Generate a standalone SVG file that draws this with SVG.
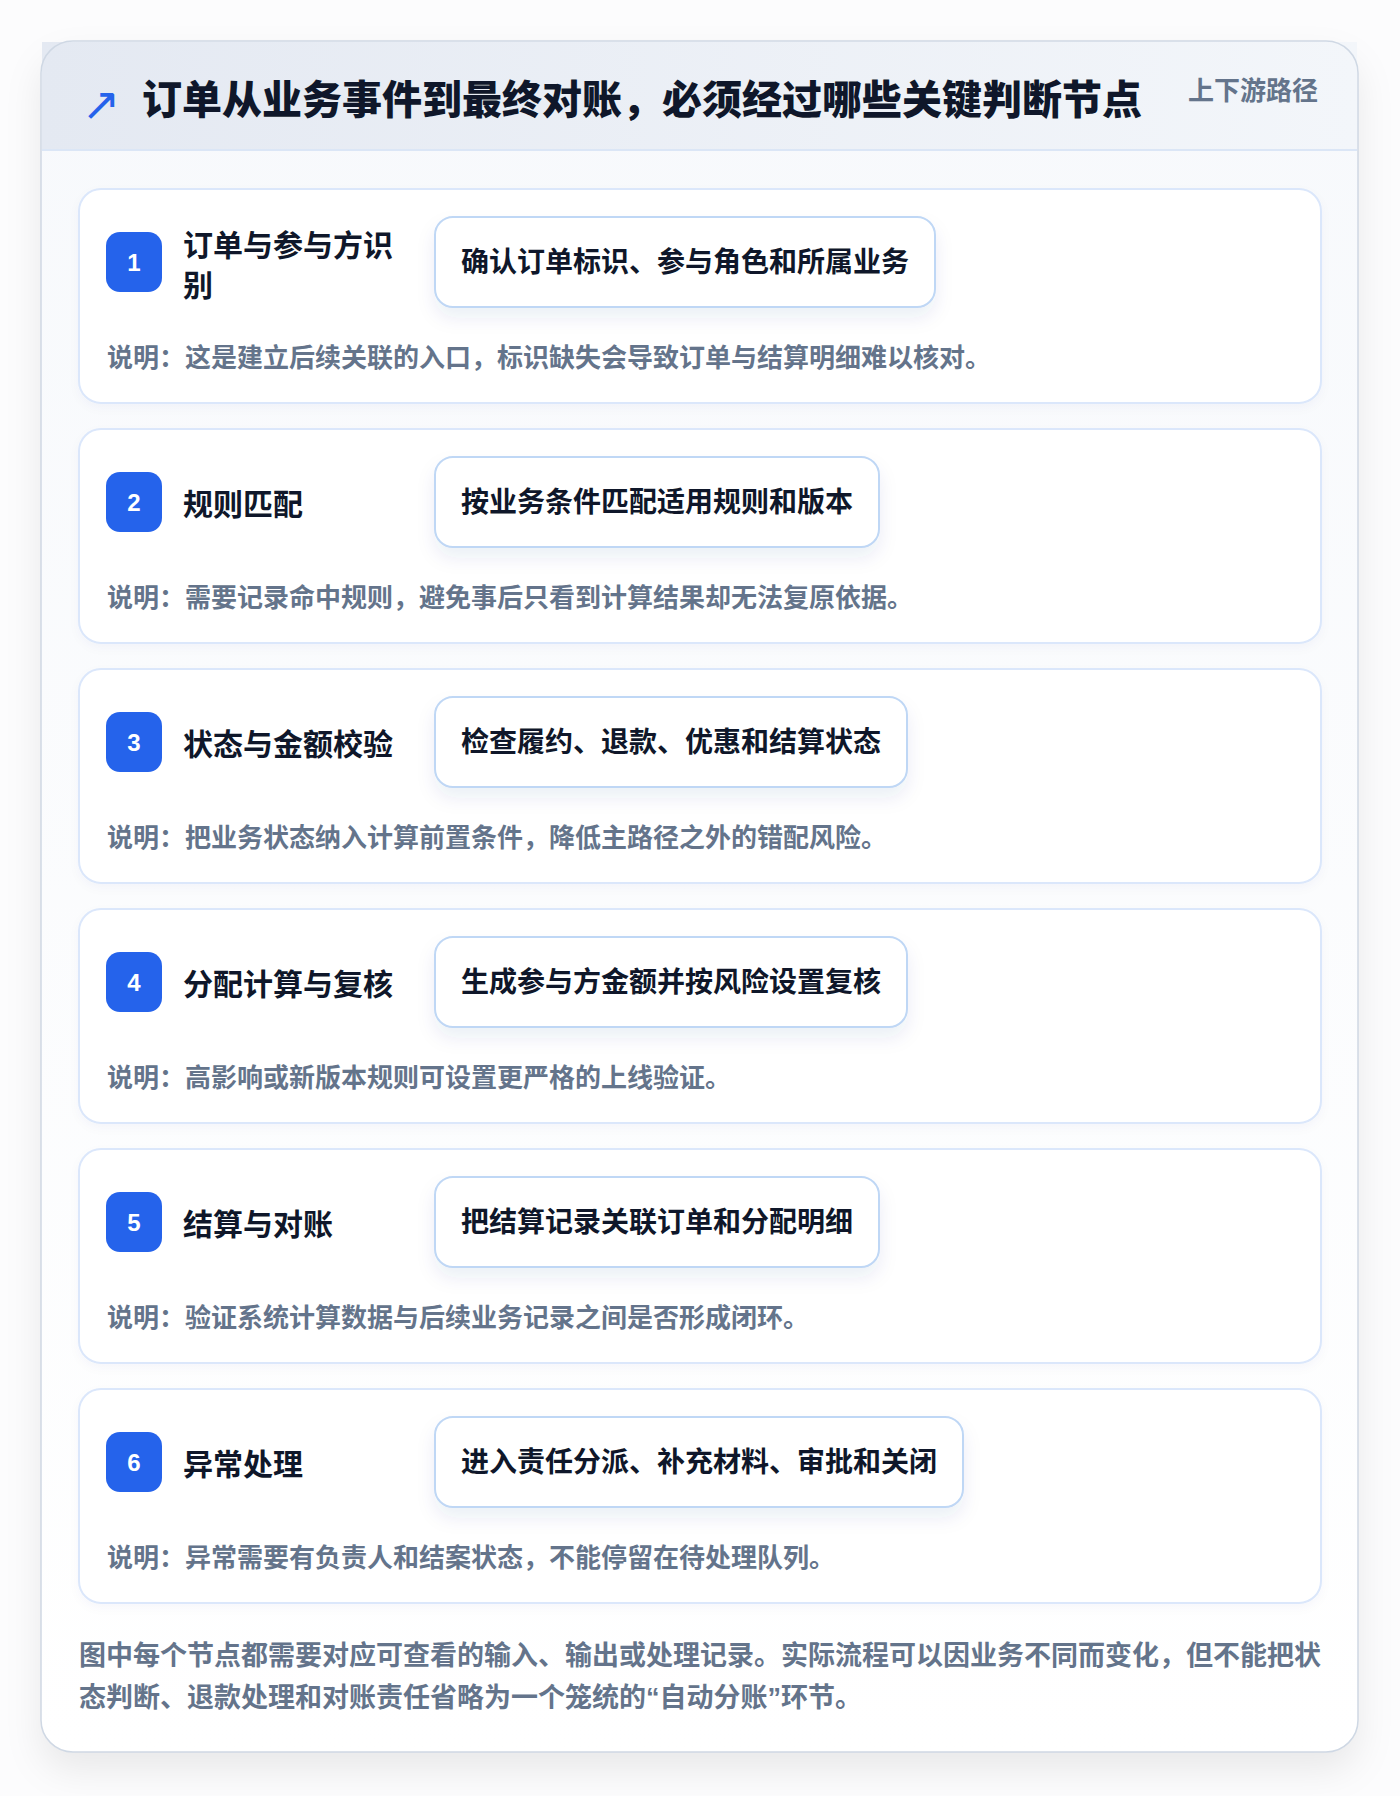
<svg xmlns="http://www.w3.org/2000/svg" width="1400" height="1796" viewBox="0 0 1400 1796">
<defs>
<linearGradient id="hdr" x1="0" y1="0" x2="1" y2="0">
<stop offset="0" stop-color="#e4e9f2"/>
<stop offset="1" stop-color="#f3f6fa"/>
</linearGradient>
<linearGradient id="body" x1="0" y1="0" x2="0" y2="1">
<stop offset="0" stop-color="#f7f9fc"/>
<stop offset="1" stop-color="#ffffff"/>
</linearGradient>
<filter id="cardShadow" x="-10%" y="-10%" width="120%" height="120%">
<feDropShadow dx="0" dy="18" stdDeviation="18" flood-color="#0f172a" flood-opacity="0.08"/>
</filter>
<filter id="boxShadow" x="-10%" y="-20%" width="120%" height="160%">
<feDropShadow dx="0" dy="10" stdDeviation="9" flood-color="#1e3a8a" flood-opacity="0.08"/>
</filter>
<filter id="stepShadow" x="-5%" y="-10%" width="110%" height="125%">
<feDropShadow dx="0" dy="4" stdDeviation="5" flood-color="#1e3a8a" flood-opacity="0.03"/>
</filter>
</defs>
<style>
.cjk{font-family:"Liberation Sans","Noto Sans CJK SC",sans-serif;font-weight:700}
.title{font-size:40px;fill:#0f172a;font-weight:900}
.tag{font-size:26px;fill:#64748b}
.step{fill:#ffffff;stroke:#dbe7fb;stroke-width:2}
.badge{fill:#2563eb}
.num{font-family:"Liberation Sans","Noto Sans",sans-serif;font-weight:700;font-size:24px;fill:#ffffff;text-anchor:middle}
.stitle{font-size:30px;fill:#0f172a}
.box{fill:#ffffff;stroke:#bfd7f5;stroke-width:2;filter:url(#boxShadow)}
.btext{font-size:28px;fill:#0f172a}
.desc{font-size:26px;fill:#64748b}
.foot{font-size:27px;fill:#64748b}
</style>
<rect x="0" y="0" width="1400" height="1796" fill="#fcfcfd"/>
<g id="frame">
<rect x="41" y="41" width="1317" height="1711" rx="32" fill="url(#body)" filter="url(#cardShadow)"/>
<rect x="42" y="42" width="1315" height="109" fill="url(#hdr)"/>
<line x1="42" y1="150" x2="1357" y2="150" stroke="#dbe6f6" stroke-width="2"/>
<rect x="41" y="41" width="1317" height="1711" rx="32" fill="none" stroke="#cfd8e4" stroke-width="1.5"/>
</g>
<g id="header">
<text x="82" y="120" font-family="DejaVu Sans,sans-serif" font-size="46" fill="#2563eb">↗</text>
<text class="cjk title" x="142" y="114">订单从业务事件到最终对账，必须经过哪些关键判断节点</text>
<text class="cjk tag" x="1318" y="100" text-anchor="end">上下游路径</text>
</g>
<g id="connectors"/>
<g id="step1">
<rect class="step" x="79" y="189" width="1242" height="214" rx="22" filter="url(#stepShadow)"/>
<rect class="badge" x="106" y="232" width="56" height="60" rx="14"/>
<text class="num" x="134" y="271">1</text>
<text class="cjk stitle" x="183" y="256">订单与参与方识</text>
<text class="cjk stitle" x="183" y="296">别</text>
<rect class="box" x="435" y="217" width="500" height="90" rx="18"/>
<text class="cjk btext" x="461" y="272">确认订单标识、参与角色和所属业务</text>
<text class="cjk desc" x="107" y="367">说明：这是建立后续关联的入口，标识缺失会导致订单与结算明细难以核对。</text>
</g>
<g id="step2">
<rect class="step" x="79" y="429" width="1242" height="214" rx="22" filter="url(#stepShadow)"/>
<rect class="badge" x="106" y="472" width="56" height="60" rx="14"/>
<text class="num" x="134" y="511">2</text>
<text class="cjk stitle" x="183" y="515">规则匹配</text>
<rect class="box" x="435" y="457" width="444" height="90" rx="18"/>
<text class="cjk btext" x="461" y="512">按业务条件匹配适用规则和版本</text>
<text class="cjk desc" x="107" y="607">说明：需要记录命中规则，避免事后只看到计算结果却无法复原依据。</text>
</g>
<g id="step3">
<rect class="step" x="79" y="669" width="1242" height="214" rx="22" filter="url(#stepShadow)"/>
<rect class="badge" x="106" y="712" width="56" height="60" rx="14"/>
<text class="num" x="134" y="751">3</text>
<text class="cjk stitle" x="183" y="755">状态与金额校验</text>
<rect class="box" x="435" y="697" width="472" height="90" rx="18"/>
<text class="cjk btext" x="461" y="752">检查履约、退款、优惠和结算状态</text>
<text class="cjk desc" x="107" y="847">说明：把业务状态纳入计算前置条件，降低主路径之外的错配风险。</text>
</g>
<g id="step4">
<rect class="step" x="79" y="909" width="1242" height="214" rx="22" filter="url(#stepShadow)"/>
<rect class="badge" x="106" y="952" width="56" height="60" rx="14"/>
<text class="num" x="134" y="991">4</text>
<text class="cjk stitle" x="183" y="995">分配计算与复核</text>
<rect class="box" x="435" y="937" width="472" height="90" rx="18"/>
<text class="cjk btext" x="461" y="992">生成参与方金额并按风险设置复核</text>
<text class="cjk desc" x="107" y="1087">说明：高影响或新版本规则可设置更严格的上线验证。</text>
</g>
<g id="step5">
<rect class="step" x="79" y="1149" width="1242" height="214" rx="22" filter="url(#stepShadow)"/>
<rect class="badge" x="106" y="1192" width="56" height="60" rx="14"/>
<text class="num" x="134" y="1231">5</text>
<text class="cjk stitle" x="183" y="1235">结算与对账</text>
<rect class="box" x="435" y="1177" width="444" height="90" rx="18"/>
<text class="cjk btext" x="461" y="1232">把结算记录关联订单和分配明细</text>
<text class="cjk desc" x="107" y="1327">说明：验证系统计算数据与后续业务记录之间是否形成闭环。</text>
</g>
<g id="step6">
<rect class="step" x="79" y="1389" width="1242" height="214" rx="22" filter="url(#stepShadow)"/>
<rect class="badge" x="106" y="1432" width="56" height="60" rx="14"/>
<text class="num" x="134" y="1471">6</text>
<text class="cjk stitle" x="183" y="1475">异常处理</text>
<rect class="box" x="435" y="1417" width="528" height="90" rx="18"/>
<text class="cjk btext" x="461" y="1472">进入责任分派、补充材料、审批和关闭</text>
<text class="cjk desc" x="107" y="1567">说明：异常需要有负责人和结案状态，不能停留在待处理队列。</text>
</g>
<g id="footer">
<text class="cjk foot" x="79" y="1665">图中每个节点都需要对应可查看的输入、输出或处理记录。实际流程可以因业务不同而变化，但不能把状</text>
<text class="cjk foot" x="79" y="1707">态判断、退款处理和对账责任省略为一个笼统的“自动分账”环节。</text>
</g>
</svg>
